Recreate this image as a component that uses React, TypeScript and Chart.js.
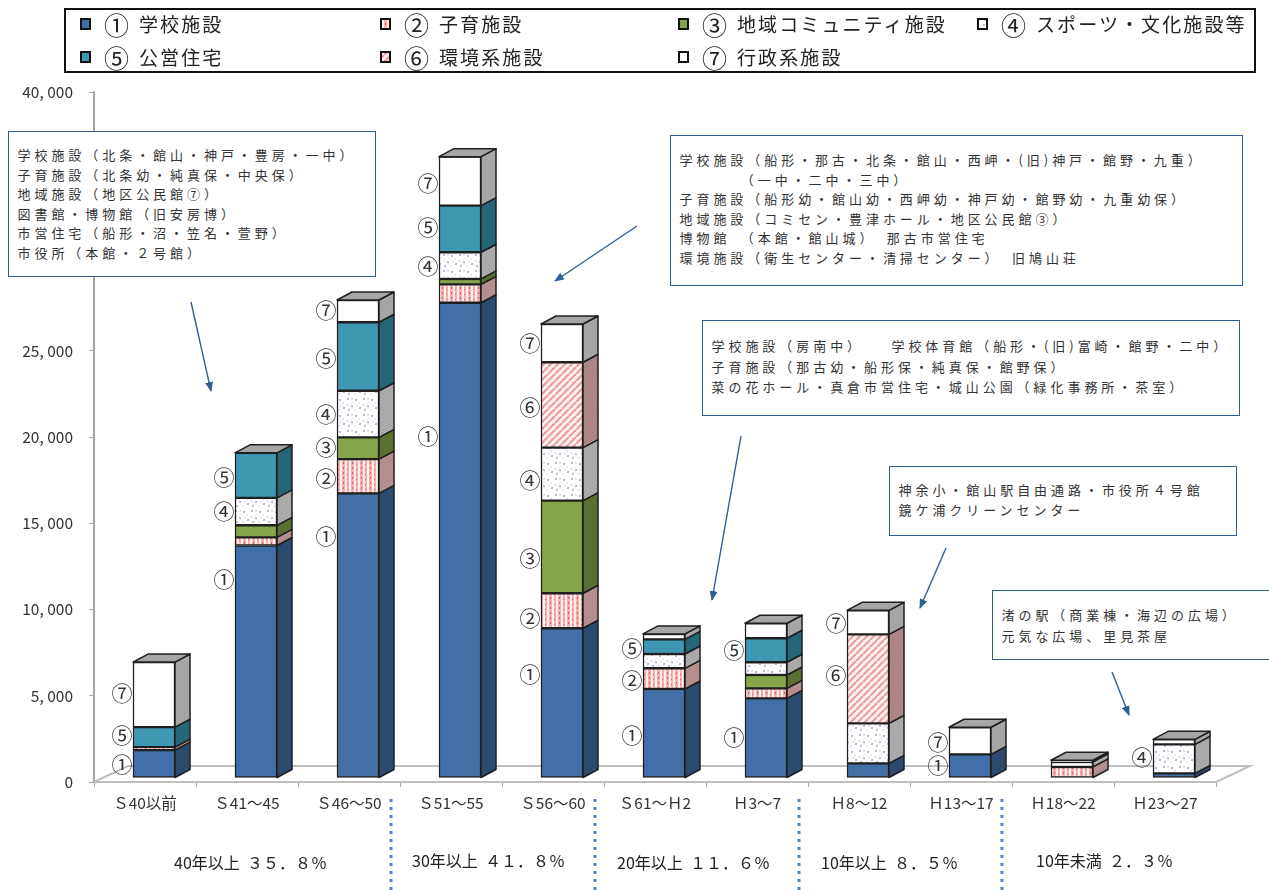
import React, { useEffect, useRef } from "react";
import { Chart, registerables } from "chart.js";

Chart.register(...registerables);

const categories = ["Ｓ40以前", "Ｓ41～45", "Ｓ46～50", "Ｓ51～55", "Ｓ56～60", "Ｓ61～Ｈ2", "Ｈ3～7", "Ｈ8～12", "Ｈ13～17", "Ｈ18～22", "Ｈ23～27"];
const school = [1620, 13480, 16500, 27550, 8680, 5160, 4620, 850, 1370, 0, 270];
const childcare = [170, 470, 1990, 1070, 2030, 1200, 580, 0, 0, 640, 0];
const community = [0, 700, 1260, 310, 5370, 0, 770, 0, 0, 0, 0];
const sportsCulture = [0, 1590, 2700, 1550, 3070, 830, 740, 2320, 0, 290, 1680];
const housing = [1160, 2610, 3970, 2700, 0, 850, 1390, 0, 0, 0, 0];
const environment = [0, 0, 0, 0, 4950, 0, 0, 5160, 0, 0, 0];
const admin = [3770, 0, 1290, 2840, 2220, 310, 870, 1390, 1570, 100, 290];
const seriesMarks = ["①", "②", "③", "④", "⑤", "⑥", "⑦"];
const seriesNames = ["学校施設", "子育施設", "地域コミュニティ施設", "スポーツ・文化施設等", "公営住宅", "環境系施設", "行政系施設"];

// Hand-placed circled numbers: [category index, mark, height on the value axis]
const circledMarks: [number, string, number][] = [
  [0, "⑦", 5160], [0, "⑤", 2725], [0, "①", 1045],
  [1, "⑤", 17680], [1, "④", 15710], [1, "①", 11770],
  [2, "⑦", 27360], [2, "⑤", 24580], [2, "④", 21330], [2, "③", 19420], [2, "②", 17620], [2, "①", 14260],
  [3, "⑦", 34720], [3, "⑤", 32170], [3, "④", 29910], [3, "①", 20060],
  [4, "⑦", 25450], [4, "⑥", 21740], [4, "④", 17510], [4, "③", 12990], [4, "②", 9510], [4, "①", 6260],
  [5, "⑤", 7770], [5, "②", 5910], [5, "①", 2725],
  [6, "⑤", 7650], [6, "①", 2610],
  [7, "⑦", 9220], [7, "⑥", 6200],
  [8, "⑦", 2320], [8, "①", 985],
  [10, "④", 1450],
];

const note1 = ["学校施設（北条・館山・神戸・豊房・一中）", "子育施設（北条幼・純真保・中央保）", "地域施設（地区公民館⑦）", "図書館・博物館（旧安房博）", "市営住宅（船形・沼・笠名・萱野）", "市役所（本館・２号館）"];
const note2 = ["学校施設（船形・那古・北条・館山・西岬・(旧)神戸・館野・九重）", "　　　　（一中・二中・三中）", "子育施設（船形幼・館山幼・西岬幼・神戸幼・館野幼・九重幼保）", "地域施設（コミセン・豊津ホール・地区公民館③）", "博物館　（本館・館山城）　那古市営住宅", "環境施設（衛生センター・清掃センター）　旧鳩山荘"];
const note3 = ["学校施設（房南中）　　学校体育館（船形・(旧)富崎・館野・二中）", "子育施設（那古幼・船形保・純真保・館野保）", "菜の花ホール・真倉市営住宅・城山公園（緑化事務所・茶室）"];
const note4 = ["神余小・館山駅自由通路・市役所４号館", "鏡ケ浦クリーンセンター"];
const note5 = ["渚の駅（商業棟・海辺の広場）", "元気な広場、里見茶屋"];
const ageBands = ["40年以上  ３５．８％", "30年以上  ４１．８％", "20年以上  １１．６％", "10年以上  ８．５％", "10年未満  ２．３％"];

const FONT = '"Noto Sans CJK JP", "Noto Sans", sans-serif';
const DEPTH_X = 15;
const DEPTH_Y = 8;
const OUTLINE = "#1f1f1f";
const FRAME = "#2f5f96";

function tile(w: number, h: number, bg: string, draw: (c: CanvasRenderingContext2D) => void) {
  const cv = document.createElement("canvas");
  cv.width = w;
  cv.height = h;
  const c = cv.getContext("2d")!;
  c.fillStyle = bg;
  c.fillRect(0, 0, w, h);
  draw(c);
  return cv;
}
function dotTile() {
  return tile(9, 5, "#fdeeee", (c) => {
    c.fillStyle = "#f4b0b0";
    c.fillRect(0, 0, 3, 5);
    c.fillRect(5, 0, 2, 5);
    c.fillStyle = "#e05c5c";
    c.fillRect(1, 1, 1, 2);
    c.fillRect(5, 3, 1, 1);
  });
}
function speckTile() {
  return tile(16, 16, "#ffffff", (c) => {
    c.fillStyle = "#bdb7dd";
    [[2, 2], [10, 3], [6, 9], [14, 11], [3, 13]].forEach(([x, y]) => c.fillRect(x, y, 2, 2));
    c.fillStyle = "#e6e3f3";
    [[6, 2], [13, 6], [2, 8], [9, 13], [11, 9]].forEach(([x, y]) => c.fillRect(x, y, 2, 2));
  });
}
function stripeTile() {
  return tile(7, 7, "#fff2f2", (c) => {
    c.strokeStyle = "#ee9c9c";
    c.lineWidth = 2.2;
    for (let i = -7; i <= 14; i += 7) {
      c.beginPath();
      c.moveTo(i, 7);
      c.lineTo(i + 7, 0);
      c.stroke();
    }
  });
}
function stippleTile(a: string, b: string) {
  return tile(5, 5, a, (c) => {
    c.fillStyle = b;
    [[0, 0], [3, 1], [1, 2], [4, 3], [2, 4]].forEach(([x, y]) => c.fillRect(x, y, 1, 1));
  });
}

const frontFills: (string | (() => HTMLCanvasElement))[] = ["#4270a6", dotTile, "#86a44a", speckTile, "#3f98b2", stripeTile, "#ffffff"];
const sideFills: (string | (() => HTMLCanvasElement))[] = [
  "#2b4a6e",
  () => stippleTile("#b89292", "#a98080"),
  "#5a7032",
  () => stippleTile("#aeaeae", "#9a9a9a"),
  "#266777",
  () => stippleTile("#b08a8a", "#a07878"),
  "#a6a6a6",
];

function swatchStyle(i: number): React.CSSProperties {
  const f = frontFills[i];
  return typeof f === "string" ? { background: f } : { backgroundImage: `url(${f().toDataURL()})`, backgroundPosition: "2px 2px" };
}

function Note({ left, top, width, height, lines, textTop, lineStep }: { left: number; top: number; width: number; height: number; lines: string[]; textTop: number; lineStep: number }) {
  return (
    <div style={{ position: "absolute", left, top, width, height, boxSizing: "border-box", background: "#fff", border: `1.5px solid ${FRAME}` }}>
      {lines.map((t, i) => (
        <div key={i} style={{ position: "absolute", left: 8.5, top: textTop - top + i * lineStep - 12, height: 20, lineHeight: "20px", whiteSpace: "pre", fontSize: 13, letterSpacing: "3.95px", color: "#333", fontFamily: FONT }}>
          {t}
        </div>
      ))}
    </div>
  );
}

const arrows = [
  [191, 302, 211, 391],
  [637, 226, 555, 281],
  [741, 436, 712, 600],
  [946, 548, 920, 608],
  [1112, 672, 1129, 715],
];
const bandLabelBoxes = [
  [174, 862],
  [412, 860],
  [617, 862],
  [821, 862],
  [1036, 860],
];
const legendColumns = [80, 380, 678, 977];
const legendRows = [24, 57];
const legendOrder = [
  [0, 0, 0],
  [1, 1, 0],
  [2, 2, 0],
  [3, 3, 0],
  [4, 0, 1],
  [5, 1, 1],
  [6, 2, 1],
];
const dividers = [391, 595, 799, 1002];

export default function App() {
  const ref = useRef<HTMLCanvasElement>(null);

  useEffect(() => {
    const canvas = ref.current!;
    const ctx = canvas.getContext("2d")!;
    const paint = (f: string | (() => HTMLCanvasElement)) => (typeof f === "string" ? f : ctx.createPattern(f(), "repeat")!);
    const series = [school, childcare, community, sportsCulture, housing, environment, admin];
    const sidePaints = sideFills.map(paint);

    const depthPlugin = {
      id: "depth",
      beforeDatasetsDraw(chart: any) {
        const { ctx: c, chartArea: a } = chart;
        c.save();
        c.strokeStyle = "#bfbfbf";
        c.lineWidth = 2;
        c.beginPath();
        c.moveTo(a.left, a.bottom);
        c.lineTo(a.left + 34, a.bottom - 16);
        c.lineTo(a.right + 34, a.bottom - 16);
        c.lineTo(a.right, a.bottom);
        c.stroke();
        c.restore();
        c.save();
        c.translate(9, -4);
      },
      afterDatasetsDraw(chart: any) {
        const c = chart.ctx;
        c.lineWidth = 1.5;
        c.strokeStyle = OUTLINE;
        c.lineJoin = "round";
        categories.forEach((_, idx) => {
          let topY = Infinity;
          let l = 0;
          let r = 0;
          series.forEach((_s, ds) => {
            if (!series[ds][idx]) return;
            const el = chart.getDatasetMeta(ds).data[idx];
            l = el.x - el.width / 2;
            r = el.x + el.width / 2;
            const t = el.y;
            const b = el.base;
            topY = Math.min(topY, t);
            c.fillStyle = sidePaints[ds];
            c.beginPath();
            c.moveTo(r, t);
            c.lineTo(r + DEPTH_X, t - DEPTH_Y);
            c.lineTo(r + DEPTH_X, b - DEPTH_Y);
            c.lineTo(r, b);
            c.closePath();
            c.fill();
            c.stroke();
          });
          c.fillStyle = "#a6a6a6";
          c.beginPath();
          c.moveTo(l, topY);
          c.lineTo(l + DEPTH_X, topY - DEPTH_Y);
          c.lineTo(r + DEPTH_X, topY - DEPTH_Y);
          c.lineTo(r, topY);
          c.closePath();
          c.fill();
          c.stroke();
        });
        c.restore();
      },
      afterDraw(chart: any) {
        const { ctx: c, scales } = chart;
        c.save();
        c.font = `21px ${FONT}`;
        c.fillStyle = "#333";
        c.textAlign = "center";
        c.textBaseline = "middle";
        circledMarks.forEach(([cat, mark, v]) => {
          c.fillText(mark, scales.x.getPixelForTick(cat) - 23, scales.y.getPixelForValue(v));
        });
        c.strokeStyle = "#4a86c8";
        c.lineWidth = 3;
        c.setLineDash([3, 5]);
        dividers.forEach((x) => {
          c.beginPath();
          c.moveTo(x, 799);
          c.lineTo(x, 890);
          c.stroke();
        });
        c.restore();
      },
    };

    const chart = new Chart(canvas, {
      type: "bar",
      data: {
        labels: categories,
        datasets: series.map((data, i) => ({
          label: `${seriesMarks[i]} ${seriesNames[i]}`,
          data,
          backgroundColor: paint(frontFills[i]),
          borderColor: OUTLINE,
          borderWidth: 1.5,
          borderSkipped: false,
          barThickness: 42,
          clip: false as any,
        })),
      },
      options: {
        responsive: false,
        animation: false,
        devicePixelRatio: 1,
        layout: { padding: { top: 92, right: 53, bottom: 68, left: 0 } },
        plugins: { legend: { display: false }, title: { display: false }, tooltip: { enabled: false } },
        scales: {
          x: {
            stacked: true,
            afterFit: (s: any) => {
              s.height = 40;
            },
            grid: { drawOnChartArea: false, drawTicks: true, tickLength: 5, color: "#a6a6a6" },
            border: { color: "#bfbfbf", width: 2 },
            ticks: { autoSkip: false, maxRotation: 0, minRotation: 0, padding: 7, color: "#333", font: { family: FONT, size: 15.5 } },
          },
          y: {
            stacked: true,
            min: 0,
            max: 40000,
            afterFit: (s: any) => {
              s.width = 94;
            },
            grid: { drawOnChartArea: false, drawTicks: true, tickLength: 5, color: "#a6a6a6" },
            border: { color: "#a6a6a6", width: 2 },
            ticks: {
              stepSize: 5000,
              padding: 16,
              color: "#333",
              font: { family: FONT, size: 15.5 },
              callback: (v: any) => Number(v).toLocaleString("en-US").replace(",", ", "),
            },
          },
        },
      },
      plugins: [depthPlugin],
    } as any);
    return () => chart.destroy();
  }, []);

  return (
    <div style={{ position: "fixed", left: 0, top: 0, width: 1269, height: 890, overflow: "hidden", background: "#fff", fontFamily: FONT }}>
      <canvas ref={ref} width={1269} height={890} style={{ position: "absolute", left: 0, top: 0, width: 1269, height: 890 }} />

      <div style={{ position: "absolute", left: 64, top: 8, width: 1192, height: 65, boxSizing: "border-box", border: "2px solid #111", background: "#fff" }} />
      {legendOrder.map(([s, col, row]) => (
        <React.Fragment key={s}>
          <div style={{ position: "absolute", left: legendColumns[col], top: legendRows[row] - 6, width: 11, height: 12, boxSizing: "border-box", border: "2px solid #111", ...swatchStyle(s) }} />
          <div style={{ position: "absolute", left: legendColumns[col] + 24, top: legendRows[row] - 15, height: 30, lineHeight: "30px", whiteSpace: "pre", fontSize: 19, letterSpacing: "2.1px", color: "#222", fontFamily: FONT }}>
            <span style={{ display: "inline-block", width: 35, fontSize: 25, lineHeight: "30px", verticalAlign: "top", letterSpacing: 0 }}>{seriesMarks[s]}</span>
            {seriesNames[s]}
          </div>
        </React.Fragment>
      ))}

      <Note left={8} top={131} width={368} height={146} lines={note1} textTop={156} lineStep={19.5} />
      <Note left={670} top={135} width={573} height={151} lines={note2} textTop={161} lineStep={19.5} />
      <Note left={702} top={320} width={538} height={96} lines={note3} textTop={347} lineStep={20.5} />
      <Note left={889} top={466} width={348} height={70} lines={note4} textTop={491} lineStep={20} />
      <Note left={992} top={590} width={290} height={70} lines={note5} textTop={616} lineStep={21} />

      <svg width={1269} height={890} style={{ position: "absolute", left: 0, top: 0, pointerEvents: "none" }}>
        <defs>
          <marker id="head" markerWidth="10" markerHeight="8" refX="9" refY="4" orient="auto" markerUnits="userSpaceOnUse">
            <path d="M0,0 L10,4 L0,8 Z" fill={FRAME} />
          </marker>
        </defs>
        {arrows.map(([x1, y1, x2, y2], i) => (
          <line key={i} x1={x1} y1={y1} x2={x2} y2={y2} stroke={FRAME} strokeWidth={1.4} markerEnd="url(#head)" />
        ))}
      </svg>

      {ageBands.map((t, i) => (
        <div key={i} style={{ position: "absolute", left: bandLabelBoxes[i][0], top: bandLabelBoxes[i][1] - 12, height: 24, lineHeight: "24px", whiteSpace: "pre", fontSize: 16, color: "#222", fontFamily: FONT }}>
          {t}
        </div>
      ))}
    </div>
  );
}
